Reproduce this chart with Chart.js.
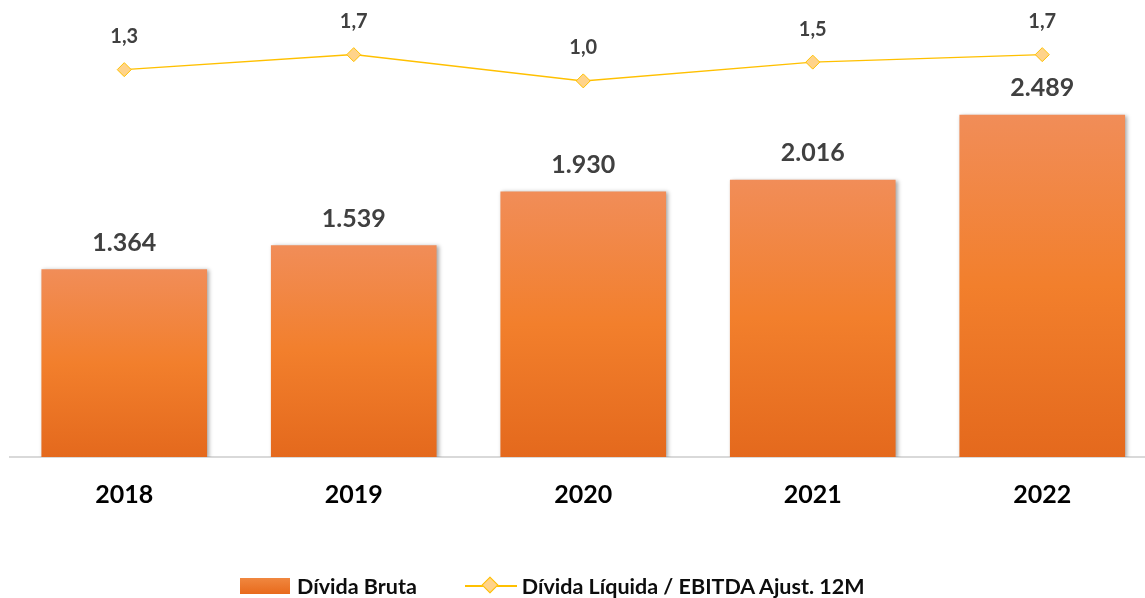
<!DOCTYPE html>
<html>
<head>
    <meta charset="utf-8"/>
    <title></title>
    <script src="https://cdn.jsdelivr.net/npm/chart.js"></script>
    <style>
      html, body { margin: 0; padding: 0; background: #fff; overflow: hidden; }
      #wrap { position: absolute; left: 0; top: 0; width: 1165px; height: 598px; }
      #legend { position: absolute; left: 240px; top: 571px; font: bold 21.5px Lato, sans-serif; line-height: 26px; color: #0d0d0d; white-space: nowrap; }
      #legend span { display: inline-block; vertical-align: middle; }
      .box { width: 50px; height: 16px; background: linear-gradient(#f0873f, #e86a1c); margin-right: 7px; }
      .ln { position: relative; width: 52px; height: 2px; background: #ffc000; margin: 0 5px 0 48px; }
      .ln i { position: absolute; left: 19px; top: -6px; width: 10px; height: 10px; background: #ffd38a; border: 1px solid #ffc000; transform: rotate(45deg); }
    </style>
</head>
<body>
    <div id="wrap"><canvas id="chart"></canvas></div>
    <div id="legend">
      <span class="box"></span><span>Dívida Bruta</span><span class="ln"><i></i></span><span>Dívida Líquida / EBITDA Ajust. 12M</span>
    </div>

    <script type="text/javascript">
      const years = ['2018', '2019', '2020', '2021', '2022'];
      const dividaBruta = [1364, 1539, 1930, 2016, 2489];
      const alavancagem = [1.3, 1.7, 1.0, 1.5, 1.7];

      const fmtBar = v => v.toLocaleString('pt-BR');
      const fmtLine = v => v.toLocaleString('pt-BR', { minimumFractionDigits: 1, maximumFractionDigits: 1 });

      // gradient per bar, from its top to the baseline
      function barColor(ctx) {
        const chart = ctx.chart;
        if (!chart.chartArea || ctx.type !== 'data') return '#f07f2e';
        const y = chart.scales.y;
        const top = y.getPixelForValue(ctx.raw);
        const base = y.getPixelForValue(0);
        const g = chart.ctx.createLinearGradient(0, top, 0, base);
        g.addColorStop(0, '#f18d58');
        g.addColorStop(0.5, '#f27f2c');
        g.addColorStop(1, '#e4691d');
        return g;
      }

      // bars are dataset 0, the line is dataset 1
      const shadowPlugin = {
        id: 'barShadow',
        beforeDatasetDraw(chart, args) {
          if (args.index !== 0) return;
          const c = chart.ctx;
          c.save();
          c.shadowColor = 'rgba(0,0,0,0.35)';
          c.shadowBlur = 4;
          c.shadowOffsetX = 2;
          c.shadowOffsetY = 1;
        },
        afterDatasetDraw(chart, args) {
          if (args.index === 0) chart.ctx.restore();
        }
      };

      const labelPlugin = {
        id: 'valueLabels',
        afterDatasetsDraw(chart) {
          const c = chart.ctx;
          c.save();
          c.fillStyle = '#404040';
          c.textAlign = 'center';
          c.textBaseline = 'middle';
          c.font = 'bold 25px Lato';
          chart.getDatasetMeta(0).data.forEach((bar, i) => {
            c.fillText(fmtBar(dividaBruta[i]), bar.x, bar.y - 27);
          });
          c.font = 'bold 20px Lato';
          chart.getDatasetMeta(1).data.forEach((pt, i) => {
            c.fillText(fmtLine(alavancagem[i]), pt.x, pt.y - 33);
          });
          c.restore();
        }
      };

      const chart = new Chart(document.getElementById('chart'), {
        data: {
          labels: years,
          datasets: [{
            type: 'bar',
            label: 'Dívida Bruta',
            data: dividaBruta,
            yAxisID: 'y',
            backgroundColor: barColor,
            barThickness: 165,
            order: 1
          }, {
            type: 'line',
            label: 'Dívida Líquida / EBITDA Ajust. 12M',
            data: alavancagem,
            yAxisID: 'y1',
            borderColor: '#ffc000',
            borderWidth: 1.5,
            pointStyle: 'rectRot',
            pointRadius: 7,
            pointBackgroundColor: '#ffd38a',
            pointBorderColor: '#ffc000',
            pointBorderWidth: 1,
            tension: 0,
            order: 0
          }]
        },
        options: {
          responsive: true,
          maintainAspectRatio: false,
          animation: false,
          layout: { padding: { left: 9.5, right: 5.5, top: 10, bottom: 73 } },
          plugins: { legend: { display: false }, tooltip: { enabled: false } },
          scales: {
            x: {
              grid: { display: false },
              border: { display: true, color: '#d9d9d9', width: 2 },
              ticks: { color: '#000', padding: 15, font: { family: 'Lato', weight: 'bold', size: 25 } }
            },
            y: { display: false, min: 0, max: 3253 },
            y1: { display: false, min: -9.03, max: 2.89 }
          }
        },
        plugins: [shadowPlugin, labelPlugin]
      });
    </script>
</body>
</html>
